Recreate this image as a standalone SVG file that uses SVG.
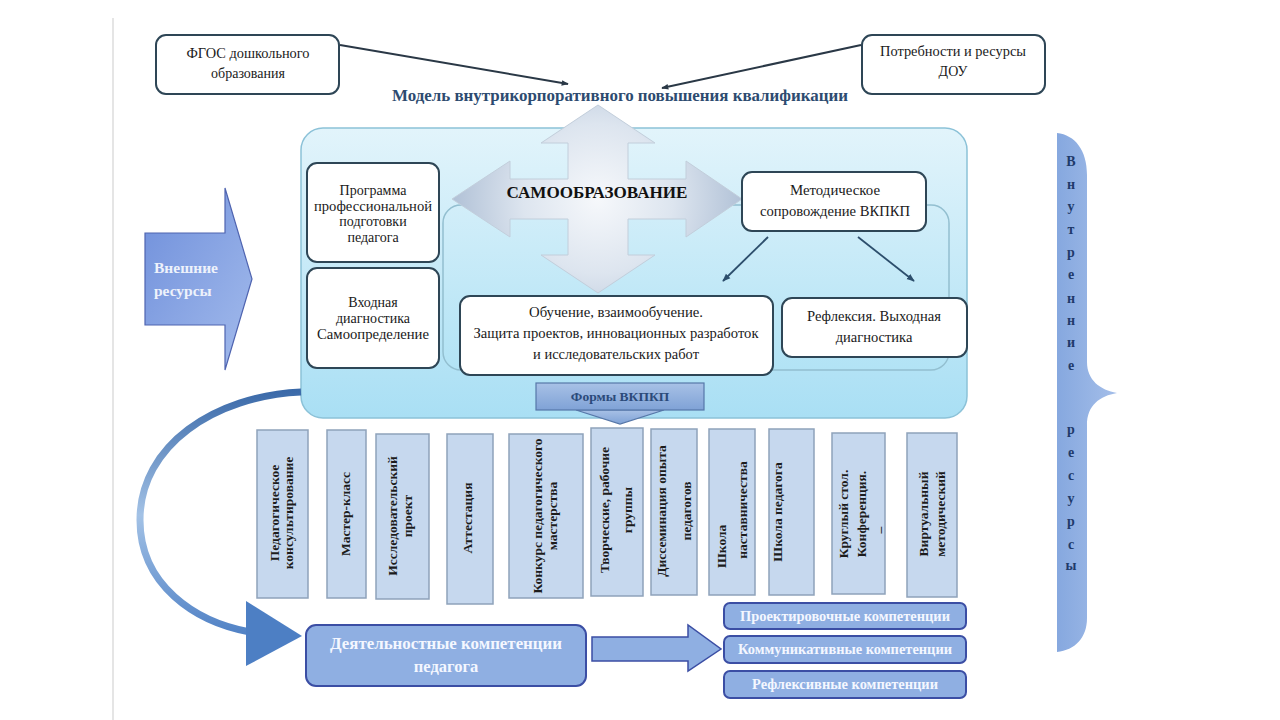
<svg xmlns="http://www.w3.org/2000/svg" width="1280" height="720" viewBox="0 0 1280 720">
<defs>
<style>
.t{font-family:"Liberation Serif","Times New Roman",serif;fill:#1a1a1a;text-anchor:middle}
.tb{font-family:"Liberation Serif","Times New Roman",serif;font-weight:bold;text-anchor:middle}
.wbox{fill:#ffffff;stroke:#2e4656;stroke-width:2}
.col{fill:#c6d8ee;stroke:#8ea2ba;stroke-width:1.5}
.colt{font-family:"Liberation Serif","Times New Roman",serif;font-weight:bold;font-size:13.5px;fill:#1c1c1c;text-anchor:middle}
.comp{fill:#8fafe2;stroke:#3b4ea4;stroke-width:2}
.compt{font-family:"Liberation Serif","Times New Roman",serif;font-weight:bold;font-size:14px;fill:#f4f7ff;text-anchor:middle}
.lt{font-family:"Liberation Serif","Times New Roman",serif;font-weight:bold;font-size:14px;fill:#1f3a6a;text-anchor:middle}
</style>
<marker id="ah" viewBox="0 0 10 10" refX="9" refY="5" markerWidth="7" markerHeight="7" orient="auto" markerUnits="userSpaceOnUse">
<path d="M0,1 L10,5 L0,9 Z" fill="#2a3846"/>
</marker>
<marker id="ah2" viewBox="0 0 10 10" refX="9" refY="5" markerWidth="8" markerHeight="8" orient="auto" markerUnits="userSpaceOnUse">
<path d="M0,1 L10,5 L0,9 Z" fill="#2c4e6c"/>
</marker>
<linearGradient id="panel" x1="0" y1="0" x2="0" y2="1">
<stop offset="0" stop-color="#e2f4fb"/>
<stop offset="1" stop-color="#a9dff4"/>
</linearGradient>
<linearGradient id="inner" x1="0" y1="0" x2="0" y2="1">
<stop offset="0" stop-color="#d2eef9"/>
<stop offset="1" stop-color="#b2e3f5"/>
</linearGradient>
<radialGradient id="cross" cx="598" cy="199" r="150" gradientUnits="userSpaceOnUse">
<stop offset="0" stop-color="#f6f8fb"/>
<stop offset="0.5" stop-color="#dde5ef"/>
<stop offset="1" stop-color="#aebfd5"/>
</radialGradient>
<linearGradient id="ext" x1="0" y1="0" x2="1" y2="1">
<stop offset="0" stop-color="#6f8fdb"/>
<stop offset="1" stop-color="#a3bbec"/>
</linearGradient>
<linearGradient id="brace" x1="0" y1="0" x2="1" y2="0">
<stop offset="0" stop-color="#86a8df"/>
<stop offset="1" stop-color="#a4bee9"/>
</linearGradient>
<linearGradient id="curve" x1="0" y1="390" x2="0" y2="640" gradientUnits="userSpaceOnUse">
<stop offset="0" stop-color="#3a69a8"/>
<stop offset="0.5" stop-color="#a3c2e6"/>
<stop offset="1" stop-color="#4d7fc4"/>
</linearGradient>
<linearGradient id="forms" x1="0" y1="0" x2="0" y2="1">
<stop offset="0" stop-color="#a8c1e6"/>
<stop offset="1" stop-color="#7fa2d6"/>
</linearGradient>
</defs>
<rect x="0" y="0" width="1280" height="720" fill="#ffffff"/>
<line x1="113" y1="18" x2="113" y2="720" stroke="#dcdcdc" stroke-width="1.5"/>

<g id="fgos">
<rect class="wbox" x="156" y="35" width="183" height="59" rx="10"/>
<text class="t" font-size="14" x="248" y="58" textLength="123" lengthAdjust="spacingAndGlyphs">ФГОС дошкольного</text>
<text class="t" font-size="14" x="248" y="78">образования</text>
</g>
<g id="needs">
<rect class="wbox" x="862" y="35" width="183" height="59" rx="10"/>
<text class="t" font-size="14" x="953" y="56" textLength="146" lengthAdjust="spacingAndGlyphs">Потребности и ресурсы</text>
<text class="t" font-size="14" x="953" y="76">ДОУ</text>
</g>
<g id="title">
<text class="tb" font-size="16" fill="#2d4b70" x="620" y="101" textLength="456" lengthAdjust="spacingAndGlyphs">Модель внутрикорпоративного повышения квалификации</text>
</g>

<g id="main-panel">
<rect x="301" y="128" width="666" height="290" rx="22" fill="url(#panel)" stroke="#8cc2d8" stroke-width="1.5"/>
</g>
<g id="inner-panel">
<rect x="443" y="205" width="506" height="165" rx="18" fill="url(#inner)" stroke="#93bfd0" stroke-width="1.5"/>
</g>

<g id="external">
<path d="M145,233 L225,233 L225,188 L252,279 L225,370 L225,325 L145,325 Z" fill="url(#ext)" stroke="#4f64b0" stroke-width="1.2"/>
<text class="tb" font-size="15.5" fill="#eef2fb" x="154" y="273" style="text-anchor:start">Внешние</text>
<text class="tb" font-size="15.5" fill="#eef2fb" x="154" y="296" style="text-anchor:start">ресурсы</text>
</g>

<g id="program">
<rect class="wbox" x="307" y="163" width="132" height="99" rx="10"/>
<text class="t" font-size="14" x="373" y="195">Программа</text>
<text class="t" font-size="14" x="373" y="211" textLength="118" lengthAdjust="spacingAndGlyphs">профессиональной</text>
<text class="t" font-size="14" x="373" y="226">подготовки</text>
<text class="t" font-size="14" x="373" y="242">педагога</text>
</g>
<g id="entry">
<rect class="wbox" x="307" y="268" width="132" height="100" rx="10"/>
<text class="t" font-size="14" x="373" y="307">Входная</text>
<text class="t" font-size="14" x="373" y="323">диагностика</text>
<text class="t" font-size="14" x="373" y="339" textLength="112" lengthAdjust="spacingAndGlyphs">Самоопределение</text>
</g>

<g id="self-education">
<path d="M598,105 L655,143 L628,143 L628,179 L686,179 L686,161 L742,199 L686,237 L686,219 L628,219 L628,255 L655,255 L598,293 L541,255 L568,255 L568,219 L510,219 L510,237 L452,199 L510,161 L510,179 L568,179 L568,143 L541,143 Z" fill="url(#cross)" stroke="#c2cedb" stroke-width="1"/>
<text class="tb" font-size="17.5" fill="#111111" x="597" y="198" textLength="181" lengthAdjust="spacingAndGlyphs">САМООБРАЗОВАНИЕ</text>
</g>

<g id="method">
<rect class="wbox" x="742" y="172" width="184" height="59" rx="10"/>
<text class="t" font-size="14.5" x="835" y="195" textLength="90" lengthAdjust="spacingAndGlyphs">Методическое</text>
<text class="t" font-size="14.5" x="835" y="216" textLength="150" lengthAdjust="spacingAndGlyphs">сопровождение ВКПКП</text>
</g>
<g id="learning">
<rect class="wbox" x="460" y="296" width="313" height="79" rx="10"/>
<text class="t" font-size="14.5" x="616" y="317" textLength="174" lengthAdjust="spacingAndGlyphs">Обучение, взаимообучение.</text>
<text class="t" font-size="14.5" x="616" y="338" textLength="285" lengthAdjust="spacingAndGlyphs">Защита проектов, инновационных разработок</text>
<text class="t" font-size="14.5" x="616" y="359" textLength="166" lengthAdjust="spacingAndGlyphs">и исследовательских работ</text>
</g>
<g id="reflection">
<rect class="wbox" x="782" y="298" width="185" height="59" rx="10"/>
<text class="t" font-size="14.5" x="874" y="321" textLength="134" lengthAdjust="spacingAndGlyphs">Рефлексия. Выходная</text>
<text class="t" font-size="14.5" x="874" y="342">диагностика</text>
</g>

<g id="forms">
<path d="M576,410 L664,410 L620,424 Z" fill="url(#forms)" stroke="#5677a8" stroke-width="1.2"/>
<rect x="536" y="383" width="168" height="27" fill="url(#forms)" stroke="#5677a8" stroke-width="1.2"/>
<text class="tb" font-size="13.5" fill="#2b4a7a" x="620" y="401">Формы ВКПКП</text>
</g>

<g id="col1"><rect class="col" x="257" y="430" width="51" height="168"/>
<text class="colt" transform="translate(283,513) rotate(-90)"><tspan x="0" y="-4">Педагогическое</tspan><tspan x="0" y="10">консультирование</tspan></text></g>
<g id="col2"><rect class="col" x="327" y="430" width="39" height="168"/>
<text class="colt" transform="translate(346,514) rotate(-90)"><tspan x="0" y="4">Мастер-класс</tspan></text></g>
<g id="col3"><rect class="col" x="376" y="434" width="53" height="165"/>
<text class="colt" transform="translate(402,516) rotate(-90)"><tspan x="0" y="-5">Исследовательский</tspan><tspan x="0" y="10">проект</tspan></text></g>
<g id="col4"><rect class="col" x="447" y="434" width="46" height="170"/>
<text class="colt" transform="translate(468,518) rotate(-90)"><tspan x="0" y="4">Аттестация</tspan></text></g>
<g id="col5"><rect class="col" x="509" y="434" width="74" height="164"/>
<text class="colt" transform="translate(546,516) rotate(-90)"><tspan x="0" y="-4">Конкурс педагогического</tspan><tspan x="0" y="11">мастерства</tspan></text></g>
<g id="col6"><rect class="col" x="591" y="428" width="52" height="168"/>
<text class="colt" transform="translate(616,510) rotate(-90)"><tspan x="0" y="-7">Творческие, рабочие</tspan><tspan x="0" y="16">группы</tspan></text></g>
<g id="col7"><rect class="col" x="651" y="429" width="46" height="166"/>
<text class="colt" transform="translate(674,511) rotate(-90)"><tspan x="0" y="-8">Диссеминация опыта</tspan><tspan x="0" y="17">педагогов</tspan></text></g>
<g id="col8"><rect class="col" x="709" y="429" width="46" height="166"/>
<text class="colt" transform="translate(732,510) rotate(-90)"><tspan x="-58" y="-6" style="text-anchor:start">Школа</tspan><tspan x="0" y="15">наставничества</tspan></text></g>
<g id="col9"><rect class="col" x="769" y="429" width="45" height="166"/>
<text class="colt" transform="translate(782,512) rotate(-90)"><tspan x="0" y="0">Школа  педагога</tspan></text></g>
<g id="col10"><rect class="col" x="832" y="433" width="53" height="161"/>
<text class="colt" transform="translate(858,514) rotate(-90)"><tspan x="0" y="-10">Круглый стол.</tspan><tspan x="0" y="8">Конференция.</tspan><tspan x="-16" y="26">–</tspan></text></g>
<g id="col11"><rect class="col" x="907" y="433" width="50" height="164"/>
<text class="colt" transform="translate(932,514) rotate(-90)"><tspan x="0" y="-4">Виртуальный</tspan><tspan x="0" y="13">методический</tspan></text></g>

<g id="internal">
<path d="M1057,133 C1075,135 1087,150 1087,175 L1087,362 C1087,380 1100,390 1117,393 C1100,396 1087,405 1087,425 L1087,618 C1087,638 1075,650 1057,652 Z" fill="url(#brace)"/>
<text class="lt" x="1071" y="166">В</text>
<text class="lt" x="1071" y="189">н</text>
<text class="lt" x="1071" y="211">у</text>
<text class="lt" x="1071" y="234">т</text>
<text class="lt" x="1071" y="257">р</text>
<text class="lt" x="1071" y="279">е</text>
<text class="lt" x="1071" y="303">н</text>
<text class="lt" x="1071" y="325">н</text>
<text class="lt" x="1071" y="347">и</text>
<text class="lt" x="1071" y="370">е</text>
<text class="lt" x="1071" y="434">р</text>
<text class="lt" x="1071" y="457">е</text>
<text class="lt" x="1071" y="480">с</text>
<text class="lt" x="1071" y="503">у</text>
<text class="lt" x="1071" y="526">р</text>
<text class="lt" x="1071" y="549">с</text>
<text class="lt" x="1071" y="570">ы</text>
</g>

<g id="activity">
<rect class="comp" x="306" y="625" width="280" height="61" rx="10"/>
<text class="tb" font-size="16.5" fill="#f4f7ff" x="446" y="649" textLength="232" lengthAdjust="spacingAndGlyphs">Деятельностные компетенции</text>
<text class="tb" font-size="16.5" fill="#f4f7ff" x="446" y="672">педагога</text>
</g>
<g id="comp1"><rect class="comp" x="724" y="603" width="242" height="26" rx="6"/>
<text class="compt" x="845" y="621" textLength="210" lengthAdjust="spacingAndGlyphs">Проектировочные компетенции</text></g>
<g id="comp2"><rect class="comp" x="724" y="636" width="242" height="27" rx="6"/>
<text class="compt" x="845" y="654" textLength="214" lengthAdjust="spacingAndGlyphs">Коммуникативные компетенции</text></g>
<g id="comp3"><rect class="comp" x="724" y="671" width="242" height="27" rx="6"/>
<text class="compt" x="845" y="689" textLength="186" lengthAdjust="spacingAndGlyphs">Рефлексивные компетенции</text></g>

<g id="connectors">
<line x1="340" y1="45" x2="568" y2="84" stroke="#2a3846" stroke-width="2" marker-end="url(#ah)"/>
<line x1="861" y1="45" x2="662" y2="88" stroke="#2a3846" stroke-width="2" marker-end="url(#ah)"/>
<line x1="768" y1="237" x2="723" y2="281" stroke="#2c4e6c" stroke-width="1.8" marker-end="url(#ah2)"/>
<line x1="858" y1="237" x2="914" y2="281" stroke="#2c4e6c" stroke-width="1.8" marker-end="url(#ah2)"/>
<path d="M301,392 C215,396 140,445 140,520 C140,585 195,622 250,632" fill="none" stroke="url(#curve)" stroke-width="7"/>
<path d="M246,601 L302,636 L246,666 Z" fill="#4d7fc4"/>
<path d="M592,637 L688,637 L688,625 L721,649 L688,671 L688,661 L592,661 Z" fill="#8fafe2" stroke="#3b4ea4" stroke-width="1.5"/>
</g>
</svg>
